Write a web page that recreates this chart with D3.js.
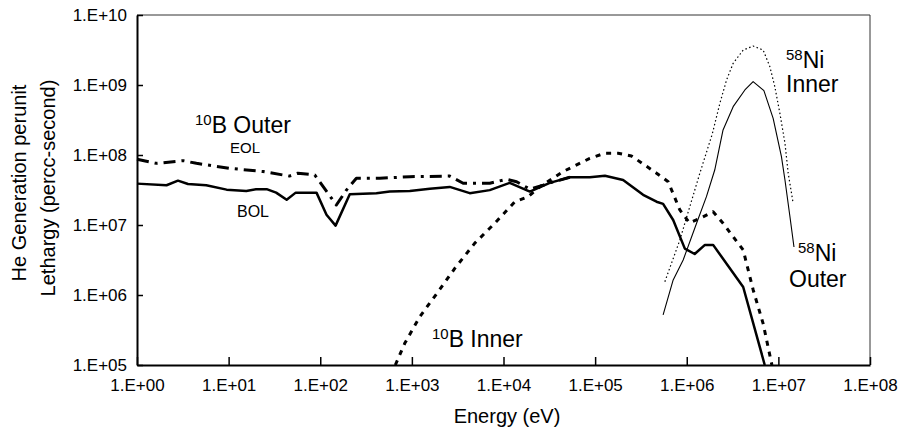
<!DOCTYPE html>
<html>
<head>
<meta charset="utf-8">
<script src="https://cdn.jsdelivr.net/npm/d3@7"></script>
<style>
  body { margin: 0; background: #fff; }
  text { font-family: "Liberation Sans", Arial, Helvetica, sans-serif; fill: #000; }
</style>
</head>
<body>
<svg id="chart" width="904" height="429"></svg>
<script>
// tick values (decades)
var xTicks = [1, 1e1, 1e2, 1e3, 1e4, 1e5, 1e6, 1e7, 1e8];
var yTicks = [1e5, 1e6, 1e7, 1e8, 1e9, 1e10];

// 10B outer, BOL (solid thick)
var bolE = [1, 2.1, 2.8, 3.6, 5.7, 9.5, 15.6, 20, 26, 33, 43, 54, 91, 117, 147, 210, 410, 574, 950, 1570, 2590, 4280, 7080,
  11700, 19400, 32000, 53000, 87500, 128000, 202000, 334000, 468000, 552000, 711000, 953000, 1.22e6, 1.58e6, 1.94e6, 4.13e6, 7.1e6];
var bolV = [3.9e7, 3.7e7, 4.3e7, 3.85e7, 3.7e7, 3.2e7, 3.05e7, 3.25e7, 3.25e7, 2.9e7, 2.3e7, 2.9e7, 2.9e7, 1.4e7, 9.8e6, 2.75e7, 2.85e7, 3.0e7, 3.05e7, 3.3e7, 3.5e7, 2.85e7, 3.15e7,
  4.0e7, 3.0e7, 4.0e7, 4.8e7, 4.8e7, 5.05e7, 4.4e7, 2.7e7, 2.15e7, 2.0e7, 1.18e7, 4.6e6, 3.85e6, 5.2e6, 5.2e6, 1.3e6, 1e5];

// 10B outer, EOL (dash-dot thick)
var eolE = [1, 1.63, 3.2, 4.45, 10.3, 23.8, 46, 57, 87, 150, 193, 248, 447, 950, 2590, 3630, 7080, 10800, 13900, 19400, 27100, 32000, 53000];
var eolV = [8.7e7, 7.6e7, 8.3e7, 7.6e7, 6.45e7, 5.8e7, 5.0e7, 5.5e7, 5.2e7, 1.93e7, 3.15e7, 4.65e7, 4.65e7, 4.9e7, 5.0e7, 3.95e7, 3.95e7, 4.5e7, 4.15e7, 3.25e7, 3.7e7, 4.0e7, 4.8e7];

// 10B inner (dashed thick)
var bInE = [660, 836, 1220, 1930, 2940, 4860, 8040, 13300, 18600, 24900, 44800, 87500, 128000, 178000, 249000, 468000, 627000, 841000,
  1.07e6, 1.4e6, 1.94e6, 2.49e6, 3.21e6, 4.13e6, 5.31e6, 6.82e6, 8.5e6];
var bInV = [1e5, 2.04e5, 4.9e5, 1.11e6, 2.4e6, 5.5e6, 1.06e7, 2.15e7, 2.54e7, 3.52e7, 5.8e7, 8.95e7, 1.06e8, 1.06e8, 9.7e7, 5.5e7, 4.15e7, 1.64e7,
  1.07e7, 1.25e7, 1.55e7, 1.06e7, 6.8e6, 4.4e6, 1.18e6, 3.9e5, 1e5];

// 58Ni inner (dotted thin)
var niInE = [577000, 841000, 1.08e6, 1.39e6, 1.9e6, 2.3e6, 2.72e6, 3.21e6, 4.13e6, 5.3e6, 6.82e6, 8.07e6, 9.14e6, 1.04e7, 1.18e7, 1.28e7, 1.45e7];
var niInV = [1.55e6, 6.1e6, 1.83e7, 5.5e7, 2.0e8, 5.5e8, 1.18e9, 2.04e9, 3.16e9, 3.6e9, 3.16e9, 1.83e9, 9.5e8, 3.9e8, 1.47e8, 5.5e7, 2.04e7];

// 58Ni outer (solid thin)
var niOutE = [552000, 711000, 914000, 1.28e6, 1.64e6, 2.02e6, 2.49e6, 3.21e6, 4.31e6, 5.3e6, 6.95e6, 8.77e6, 1.08e7, 1.18e7, 1.33e7, 1.48e7];
var niOutV = [5.2e5, 1.64e6, 3.16e6, 1.06e7, 2.54e7, 6.1e7, 2.28e8, 4.9e8, 8.5e8, 1.12e9, 8.3e8, 3.34e8, 9.5e7, 4.4e7, 1.39e7, 4.85e6];

function drawChart(){
	var svg = d3.select("#chart");
	var pl = 137, pr = 870, pt = 15, pb = 365;

	var x = d3.scaleLog().domain([1, 1e8]).range([pl, pr]);
	var y = d3.scaleLog().domain([1e5, 1e10]).range([pb, pt]);

	function expLabel(d){
		var e = Math.round(Math.log10(d));
		return "1.E+" + (e < 10 ? "0" + e : e);
	}

	// frame (top and right)
	svg.append("path")
		.attr("d", "M" + pl + "," + pt + "H" + pr + "V" + pb)
		.attr("fill", "none").attr("stroke", "#333").attr("stroke-width", 1);

	var xAxis = svg.append("g")
		.attr("transform", "translate(0," + pb + ")")
		.call(d3.axisBottom(x).tickValues(xTicks).tickFormat(expLabel).tickSizeInner(-8).tickSizeOuter(0).tickPadding(14));
	var yAxis = svg.append("g")
		.attr("transform", "translate(" + pl + ",0)")
		.call(d3.axisLeft(y).tickValues(yTicks).tickFormat(expLabel).tickSizeInner(-6).tickSizeOuter(0).tickPadding(10));

	[xAxis, yAxis].forEach(function(g){
		g.attr("font-family", null).attr("font-size", 17);
		g.select(".domain").attr("stroke", "#000").attr("stroke-width", 2);
		g.selectAll(".tick line").attr("stroke", "#000").attr("stroke-width", 1.5);
		g.selectAll(".tick text").attr("fill", "#000");
	});

	function pts(E, V){
		return E.map(function(e, i){ return [e, V[i]]; });
	}
	var line = d3.line().x(function(d){ return x(d[0]); }).y(function(d){ return y(d[1]); });

	var series = [
		{ data: pts(bInE, bInV), w: 3, dash: "5,6" },
		{ data: pts(eolE, eolV), w: 3, dash: "12,6,3,6" },
		{ data: pts(bolE, bolV), w: 2.5, dash: null },
		{ data: pts(niInE, niInV), w: 1.2, dash: "1.5,2.5" },
		{ data: pts(niOutE, niOutV), w: 1.1, dash: null }
	];

	svg.append("g").selectAll("path").data(series).enter().append("path")
		.attr("d", function(d){ return line(d.data); })
		.attr("fill", "none")
		.attr("stroke", "#000")
		.attr("stroke-width", function(d){ return d.w; })
		.attr("stroke-dasharray", function(d){ return d.dash; })
		.attr("stroke-linejoin", "round");

	// annotations
	function label(xp, yp, sup, main, size){
		var t = svg.append("text").attr("x", xp).attr("y", yp).attr("font-size", size);
		if(sup){
			t.append("tspan").attr("font-size", size * 0.65).attr("dy", -8).text(sup);
			t.append("tspan").attr("dy", 8).text(main);
		} else {
			t.text(main);
		}
		return t;
	}
	label(195, 133, "10", "B Outer", 23);
	label(230, 153, null, "EOL", 15);
	label(237, 217, null, "BOL", 16);
	label(432, 347, "10", "B Inner", 23);
	label(786, 68, "58", "Ni", 23);
	label(786, 92, null, "Inner", 23);
	label(798, 261, "58", "Ni", 23);
	label(789, 287, null, "Outer", 23);

	// axis titles
	svg.append("text").attr("x", 507).attr("y", 423).attr("text-anchor", "middle").attr("font-size", 20).text("Energy (eV)");
	svg.append("text").attr("transform", "translate(26,183) rotate(-90)").attr("text-anchor", "middle").attr("font-size", 20).text("He Generation perunit");
	svg.append("text").attr("transform", "translate(55,188) rotate(-90)").attr("text-anchor", "middle").attr("font-size", 20).text("Lethargy (percc-second)");
}

drawChart();
</script>
</body>
</html>
